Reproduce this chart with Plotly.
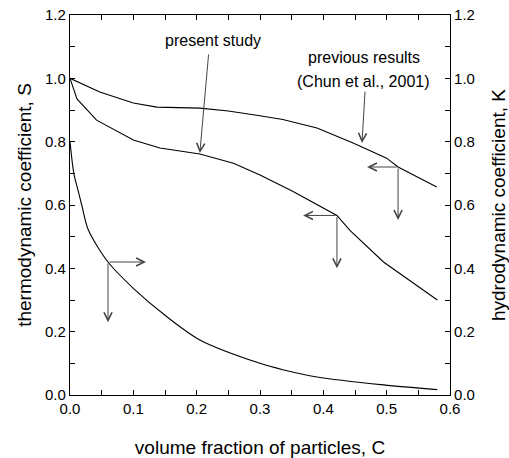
import plotly.graph_objects as go

# ---- data ----
c_prev = [0.0, 0.047, 0.1, 0.137, 0.205, 0.25, 0.3, 0.336, 0.39, 0.447, 0.50, 0.518, 0.579]
s_prev = [1.0, 0.957, 0.922, 0.909, 0.906, 0.897, 0.882, 0.870, 0.843, 0.796, 0.748, 0.72, 0.657]

c_present = [0.0, 0.011, 0.042, 0.1, 0.142, 0.205, 0.258, 0.3, 0.35, 0.4215, 0.442, 0.495, 0.58]
s_present = [1.0, 0.935, 0.868, 0.805, 0.78, 0.761, 0.732, 0.695, 0.645, 0.567, 0.52, 0.42, 0.30]

c_k = [0.0, 0.006, 0.0126, 0.0185, 0.029, 0.06, 0.1, 0.153, 0.205, 0.3, 0.336, 0.39, 0.495, 0.58]
k_vals = [0.8, 0.70, 0.647, 0.60, 0.521, 0.42, 0.337, 0.247, 0.174, 0.10, 0.080, 0.057, 0.032, 0.017]

x_ticks = [0.0, 0.1, 0.2, 0.3, 0.4, 0.5, 0.6]
y_ticks = [0.0, 0.2, 0.4, 0.6, 0.8, 1.0, 1.2]

FONT = "Liberation Sans, Arial, sans-serif"

fig = go.Figure()
line = dict(color="black", width=1.1)
fig.add_trace(go.Scatter(x=c_prev, y=s_prev, mode="lines", line=line, showlegend=False))
fig.add_trace(go.Scatter(x=c_present, y=s_present, mode="lines", line=line, showlegend=False))
fig.add_trace(go.Scatter(x=c_k, y=k_vals, mode="lines",
                         line=dict(color="black", width=1.1, shape="spline", smoothing=0.8),
                         yaxis="y2", showlegend=False))

# arrows: (tail_x, tail_y, head_x, head_y)
arrows = [
    (0.219, 1.08, 0.205, 0.764),     # present study
    (0.466, 0.963, 0.461, 0.796),    # previous results
    (0.518, 0.72, 0.469, 0.72),      # left-pointing (prev)
    (0.518, 0.72, 0.518, 0.553),     # down (prev)
    (0.4215, 0.567, 0.368, 0.567),   # left-pointing (present)
    (0.4215, 0.567, 0.4215, 0.40),   # down (present)
    (0.06, 0.42, 0.12, 0.42),        # right-pointing (K)
    (0.06, 0.42, 0.06, 0.23),        # down (K)
]
ann = []
for tx, ty, hx, hy in arrows:
    ann.append(dict(x=hx, y=hy, ax=tx, ay=ty, xref="x", yref="y", axref="x", ayref="y",
                    text="", showarrow=True, arrowhead=5, arrowsize=1.6, arrowwidth=1,
                    arrowcolor="#444", standoff=0, startstandoff=0))

ann.append(dict(x=0.226, y=1.121, xref="x", yref="y", text="present study", showarrow=False,
                font=dict(family=FONT, size=16, color="black")))
ann.append(dict(x=0.464, y=1.065, xref="x", yref="y", text="previous results", showarrow=False,
                font=dict(family=FONT, size=16, color="black")))
ann.append(dict(x=0.464, y=0.990, xref="x", yref="y", text="(Chun et al., 2001)", showarrow=False,
                font=dict(family=FONT, size=16, color="black")))

axis_common = dict(showgrid=False, zeroline=False, showline=True, linecolor="black", linewidth=1.2,
                   ticks="inside", ticklen=5, tickcolor="black", tickwidth=1, automargin=False,
                   tickfont=dict(family=FONT, size=15, color="black"))

fig.update_layout(
    width=509, height=458,
    margin=dict(l=70, r=59, t=15, b=63),
    paper_bgcolor="white", plot_bgcolor="white",
    font=dict(family=FONT, color="black"),
    annotations=ann,
    xaxis=dict(range=[0, 0.6], tickvals=x_ticks, ticktext=[f"{v:.1f}" for v in x_ticks],
               mirror="ticks",
               minor=dict(dtick=0.05, ticks="inside", ticklen=5, tickcolor="black"),
               title=dict(text="volume fraction of particles, C", font=dict(family=FONT, size=19),
                          standoff=24),
               **axis_common),
    yaxis=dict(range=[0, 1.2], tickvals=y_ticks, ticktext=[f"{v:.1f}" for v in y_ticks],
               minor=dict(dtick=0.1, ticks="inside", ticklen=5, tickcolor="black"),
               title=dict(text="thermodynamic coefficient, S", font=dict(family=FONT, size=19),
                          standoff=8),
               **axis_common),
    yaxis2=dict(range=[0, 1.2], tickvals=y_ticks, ticktext=[f"{v:.1f}" for v in y_ticks],
                overlaying="y", side="right",
                minor=dict(dtick=0.1, ticks="inside", ticklen=5, tickcolor="black"),
                title=dict(text="hydrodynamic coefficient, K", font=dict(family=FONT, size=19),
                           standoff=19),
                **axis_common),
)

fig.write_html("out.html")
